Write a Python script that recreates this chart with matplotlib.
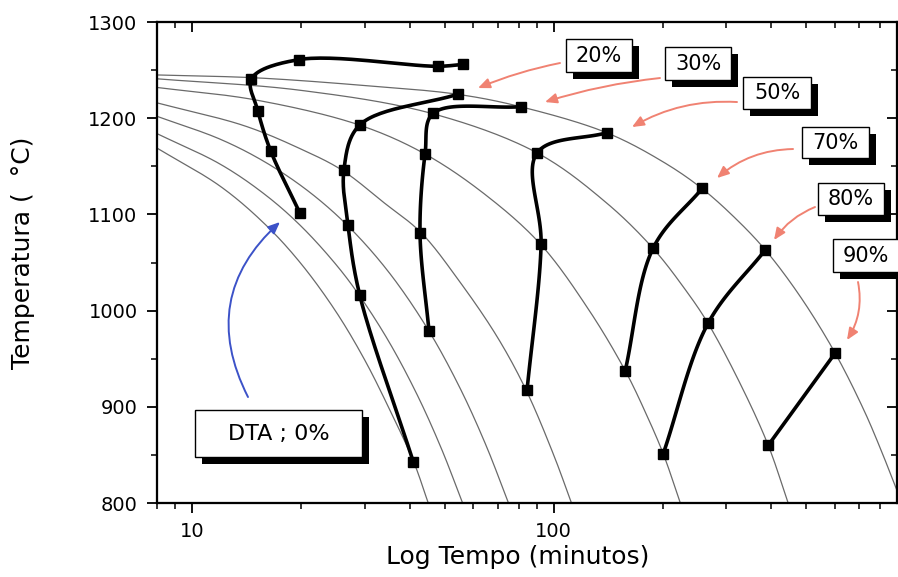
import numpy as np
import matplotlib
matplotlib.use("Agg")
import matplotlib.pyplot as plt
from matplotlib.patches import Rectangle, FancyArrowPatch
from matplotlib import patheffects as pe
from matplotlib.ticker import LogLocator, NullFormatter, MultipleLocator

plt.rcParams['xtick.labelsize'] = 14
plt.rcParams['ytick.labelsize'] = 14

# Curvas de resfriamento continuo (tempo em minutos, temperatura em C)
r1_t = [8, 15, 30, 54, 81, 140, 200, 257, 320, 385, 480, 600, 720, 800, 890]
r1_T = [1245, 1242, 1234, 1225, 1212, 1185, 1155, 1127, 1095, 1063, 1015, 956, 897, 857, 813]
r2_t = [8, 20, 46, 90, 140, 188, 230, 267, 330, 392, 445]
r2_T = [1241, 1229, 1205, 1164, 1112, 1065, 1023, 987, 922, 860, 800]
r3_t = [8, 15, 29, 44, 65, 92, 125, 158, 180, 201, 224]
r3_T = [1232, 1219, 1193, 1163, 1120, 1069, 1001, 937, 893, 851, 800]
r4_t = [8, 14, 20, 26, 34, 43, 55, 70, 84, 100, 112]
r4_T = [1216, 1192, 1168, 1146, 1112, 1081, 1030, 972, 917, 850, 800]
r5_t = [8, 12, 16, 21, 27, 35, 45, 55, 65, 75]
r5_T = [1202, 1178, 1154, 1124, 1088, 1040, 980, 920, 860, 800]
r6_t = [8, 12, 16, 20, 25, 29, 35, 42, 49, 56]
r6_T = [1184, 1152, 1120, 1088, 1048, 1016, 968, 912, 856, 800]
r7_t = [8, 12, 16, 20, 25, 30, 35, 41, 45]
r7_T = [1169, 1129, 1089, 1049, 999, 949, 899, 843, 800]

# Fracao transformada (DTA = 0%)
f0_t = [19.9, 16.5, 15.2, 14.6, 19.8, 47.9, 56.2]
f0_T = [1101, 1166, 1208, 1241, 1261, 1254, 1256]
f20_t = [40.9, 29.1, 27.0, 26.3, 29.1, 54.4]
f20_T = [843, 1016, 1089, 1146, 1193, 1225]
f30_t = [45.2, 42.7, 44.1, 46.4, 81.3]
f30_T = [979, 1081, 1163, 1205, 1212]
f50_t = [84.4, 92.3, 90.0, 140.5]
f50_T = [917, 1069, 1164, 1185]
f70_t = [157.6, 188.4, 257.4]
f70_T = [937, 1065, 1127]
f80_t = [200.8, 267.4, 384.5]
f80_T = [851, 987, 1063]
f90_t = [392, 600.5]
f90_T = [860, 956]

resfriamento = [(r1_t, r1_T), (r2_t, r2_T), (r3_t, r3_T), (r4_t, r4_T),
                (r5_t, r5_T), (r6_t, r6_T), (r7_t, r7_T)]
fracoes = [(f0_t, f0_T), (f20_t, f20_T), (f30_t, f30_T), (f50_t, f50_T),
           (f70_t, f70_T), (f80_t, f80_T), (f90_t, f90_T)]

rotulos = ['20%', '30%', '50%', '70%', '80%', '90%']


def suavizar(t, T, n=30):
    # Catmull-Rom centripeta em log(t) para tracar a linha entre os pontos
    P = np.column_stack([np.log10(t) * 361.5, np.asarray(T, float) * 0.962])
    if len(P) < 3:
        return np.asarray(t), np.asarray(T)
    P = np.vstack([2 * P[0] - P[1], P, 2 * P[-1] - P[-2]])
    partes = []
    for i in range(len(P) - 3):
        p0, p1, p2, p3 = P[i:i + 4]
        t0 = 0.0
        t1 = t0 + np.linalg.norm(p1 - p0) ** 0.5
        t2 = t1 + np.linalg.norm(p2 - p1) ** 0.5
        t3 = t2 + np.linalg.norm(p3 - p2) ** 0.5
        s = np.linspace(t1, t2, n)[:, None]
        A1 = (t1 - s) / (t1 - t0) * p0 + (s - t0) / (t1 - t0) * p1
        A2 = (t2 - s) / (t2 - t1) * p1 + (s - t1) / (t2 - t1) * p2
        A3 = (t3 - s) / (t3 - t2) * p2 + (s - t2) / (t3 - t2) * p3
        B1 = (t2 - s) / (t2 - t0) * A1 + (s - t0) / (t2 - t0) * A2
        B2 = (t3 - s) / (t3 - t1) * A2 + (s - t1) / (t3 - t1) * A3
        C = (t2 - s) / (t2 - t1) * B1 + (s - t1) / (t2 - t1) * B2
        partes.append(C if i == 0 else C[1:])
    C = np.vstack(partes)
    return 10 ** (C[:, 0] / 361.5), C[:, 1] / 0.962


fig = plt.figure(figsize=(8.98, 5.77), dpi=100)
ax = fig.add_axes([0.1748, 0.1282, 0.8241, 0.8336])

for t, T in resfriamento:
    xs, ys = suavizar(t, T)
    ax.plot(xs, ys, color='#6a6a6a', lw=0.9, zorder=2)

for t, T in fracoes:
    xs, ys = suavizar(t, T)
    ax.plot(xs, ys, color='black', lw=2.6, zorder=3, solid_capstyle='round')
    ax.plot(t, T, ls='none', marker='s', ms=7.5, color='black', zorder=4)

ax.set_xscale('log')
ax.set_xlim(8, 890)
ax.set_ylim(800, 1300)

ax.set_xticks([10, 100])
ax.set_xticklabels(['10', '100'])
ax.xaxis.set_minor_locator(LogLocator(base=10, subs=np.arange(2, 10)))
ax.xaxis.set_minor_formatter(NullFormatter())
ax.yaxis.set_major_locator(MultipleLocator(100))
ax.yaxis.set_minor_locator(MultipleLocator(50))

# eixos espelhados (topo e direita) com marcas para dentro
ax_top = ax.twiny()
ax_top.set_xscale('log')
ax_top.set_xlim(ax.get_xlim())
ax_top.set_xticks([10, 100])
ax_top.xaxis.set_minor_locator(LogLocator(base=10, subs=np.arange(2, 10)))
ax_top.xaxis.set_minor_formatter(NullFormatter())
ax_top.tick_params(axis='x', which='major', direction='in', length=7, width=1.3, labeltop=False)
ax_top.tick_params(axis='x', which='minor', direction='in', length=4, width=1.1)

ax_dir = ax.twinx()
ax_dir.set_ylim(ax.get_ylim())
ax_dir.yaxis.set_major_locator(MultipleLocator(100))
ax_dir.yaxis.set_minor_locator(MultipleLocator(50))
ax_dir.tick_params(axis='y', which='major', direction='in', length=7, width=1.3, labelright=False)
ax_dir.tick_params(axis='y', which='minor', direction='in', length=4, width=1.1)

ax.tick_params(which='major', direction='out', length=7, width=1.3, labelsize=14)
ax.tick_params(which='minor', direction='out', length=4, width=1.1)
ax.tick_params(axis='y', pad=7)
ax.tick_params(axis='x', pad=7)
for a in (ax, ax_top, ax_dir):
    for s in a.spines.values():
        s.set_linewidth(1.5)

ax.set_xlabel('Log Tempo (minutos)', fontsize=18)
ax.set_ylabel('Temperatura (  °C)', fontsize=18)
ax.xaxis.set_label_coords(0.487, -0.088)
ax.yaxis.set_label_coords(-0.165, 0.52)

# caixas com sombra e setas indicando cada fracao
sombra = [pe.SimplePatchShadow(offset=(5, -5), shadow_rgbFace='black', alpha=1.0), pe.Normal()]

caixas = [
    (0.5527, 0.8960, 0.0892, 0.0686),
    (0.6865, 0.8794, 0.0892, 0.0686),
    (0.7919, 0.8191, 0.0919, 0.0665),
    (0.8716, 0.7173, 0.0905, 0.0644),
    (0.8932, 0.5988, 0.0892, 0.0665),
    (0.9135, 0.4802, 0.0892, 0.0686),
]
setas = [
    ((0.5446, 0.9148), (0.4338, 0.8628), 0.05),
    ((0.6797, 0.8836), (0.5243, 0.8337), 0.05),
    ((0.7838, 0.8337), (0.6419, 0.7817), 0.15),
    ((0.8595, 0.7360), (0.7568, 0.6757), 0.18),
    ((0.8892, 0.6154), (0.8338, 0.5468), 0.15),
    ((0.9473, 0.4595), (0.9324, 0.3389), -0.2),
]

for rot, (x0, y0, w, h), (cauda, ponta, rad) in zip(rotulos, caixas, setas):
    ax_dir.add_patch(FancyArrowPatch(cauda, ponta, transform=ax.transAxes,
                                     arrowstyle='-|>,head_length=7,head_width=3',
                                     connectionstyle=f'arc3,rad={rad}',
                                     color='#f08272', lw=1.4, shrinkA=0, shrinkB=0,
                                     zorder=5, clip_on=False))
    caixa = Rectangle((x0, y0), w, h, transform=ax.transAxes, facecolor='white',
                      edgecolor='black', lw=1.0, zorder=6, clip_on=False)
    caixa.set_path_effects(sombra)
    ax_dir.add_patch(caixa)
    ax_dir.text(x0 + w / 2, y0 + h / 2, rot, transform=ax.transAxes, fontsize=15,
                ha='center', va='center', zorder=7, clip_on=False)

ax_dir.add_patch(FancyArrowPatch((0.1230, 0.2204), (0.1662, 0.5842), transform=ax.transAxes,
                                 arrowstyle='-|>,head_length=7,head_width=3',
                                 connectionstyle='arc3,rad=-0.38',
                                 color='#3c52c8', lw=1.4, shrinkA=0, shrinkB=0, zorder=5))
caixa = Rectangle((0.0514, 0.0956), 0.2257, 0.0977, transform=ax.transAxes,
                  facecolor='white', edgecolor='black', lw=1.0, zorder=6)
caixa.set_path_effects(sombra)
ax_dir.add_patch(caixa)
ax_dir.text(0.1642, 0.1445, 'DTA ; 0%', transform=ax.transAxes, fontsize=16,
            ha='center', va='center', zorder=7)

fig.savefig('out.png', dpi=100)
